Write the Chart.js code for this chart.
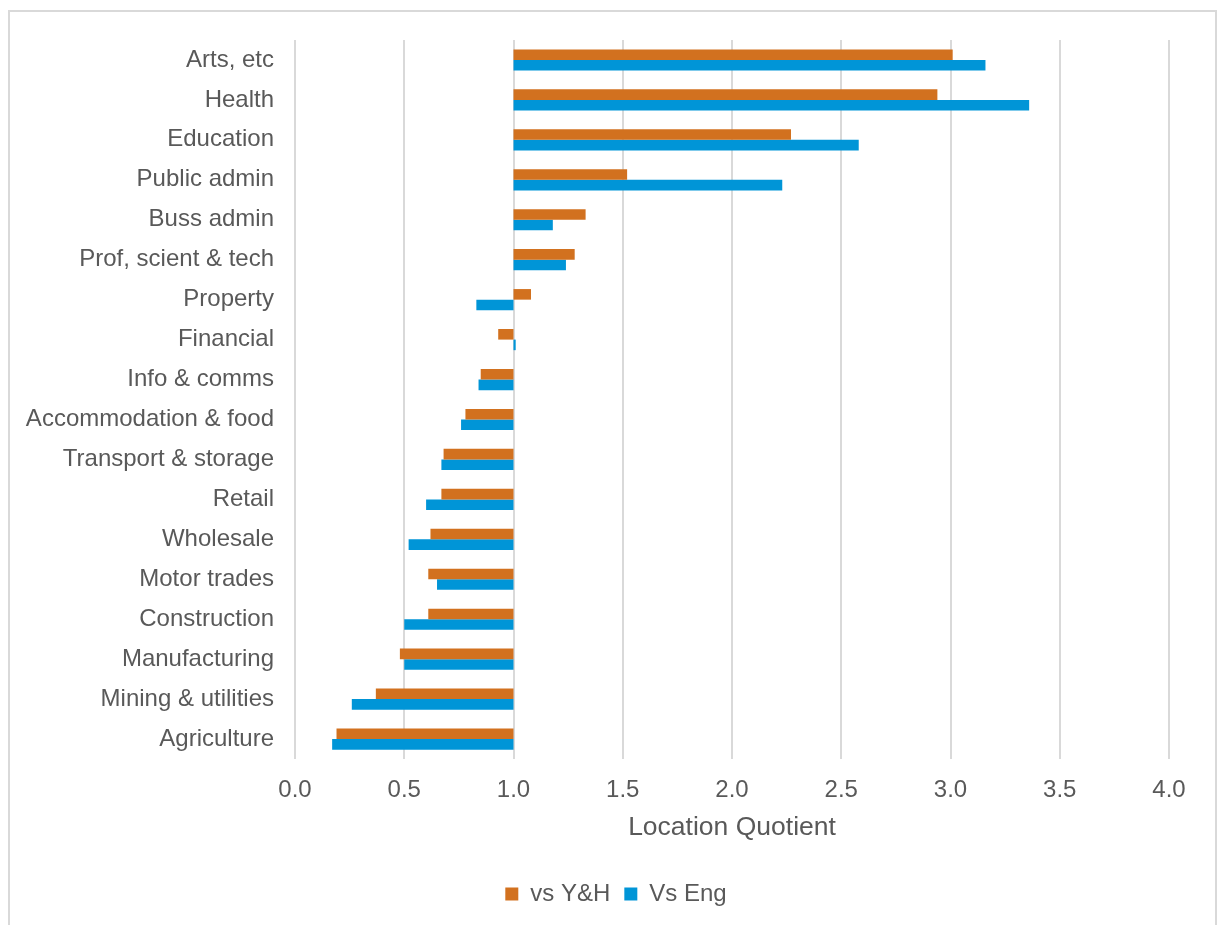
<!DOCTYPE html>
<html>
<head>
<meta charset="utf-8">
<title>Location Quotient by sector</title>
<script src="https://cdn.jsdelivr.net/npm/chart.js@4/dist/chart.umd.min.js"></script>
<style>
  html, body { margin: 0; padding: 0; background: #fff; }
  #wrap { position: relative; width: 1220px; height: 925px; overflow: hidden; }
  #frame {
    position: absolute; left: 8px; top: 10px; width: 1205px; height: 1000px;
    border: 2px solid #d9d9d9; pointer-events: none;
  }
  canvas { position: absolute; left: 0; top: 0; }
</style>
</head>
<body>
<div id="wrap">
  <canvas id="lqChart" width="1220" height="925"></canvas>
  <div id="frame"></div>
</div>
<script>
// sectors, top to bottom
const categories = [
  'Arts, etc', 'Health', 'Education', 'Public admin', 'Buss admin',
  'Prof, scient & tech', 'Property', 'Financial', 'Info & comms',
  'Accommodation & food', 'Transport & storage', 'Retail', 'Wholesale',
  'Motor trades', 'Construction', 'Manufacturing', 'Mining & utilities',
  'Agriculture'
];

// location quotient against Yorkshire & Humber
const vsYH = [3.01, 2.94, 2.27, 1.52, 1.33, 1.28, 1.08, 0.93, 0.85,
              0.78, 0.68, 0.67, 0.62, 0.61, 0.61, 0.48, 0.37, 0.19];

// location quotient against England
const vsEng = [3.16, 3.36, 2.58, 2.23, 1.18, 1.24, 0.83, 1.01, 0.84,
               0.76, 0.67, 0.60, 0.52, 0.65, 0.50, 0.50, 0.26, 0.17];

// bars grow out from LQ = 1
const baseline = 1;

const xTicks = [0, 0.5, 1, 1.5, 2, 2.5, 3, 3.5, 4];

const textColor = '#595959';
const fontFamily = '"Liberation Sans", Arial, sans-serif';

function fromBaseline(values) {
    return values.map(v => [baseline, v]);
}

const chartData = {
    labels: categories,
    datasets: [
        {
            label: 'vs Y&H',
            data: fromBaseline(vsYH),
            backgroundColor: '#D2711F',
            borderWidth: 0,
            barPercentage: 1.0,
            categoryPercentage: 0.53
        },
        {
            label: 'Vs Eng',
            data: fromBaseline(vsEng),
            backgroundColor: '#0095D7',
            borderWidth: 0,
            barPercentage: 1.0,
            categoryPercentage: 0.53
        }
    ]
};

const ctx = document.getElementById('lqChart').getContext('2d');
const lqChart = new Chart(ctx, {
    type: 'bar',
    data: chartData,
    options: {
        indexAxis: 'y',
        responsive: false,
        animation: false,
        layout: {
            padding: { left: 12, right: 0, top: 40, bottom: 9 }
        },
        plugins: {
            tooltip: { enabled: false },
            legend: {
                position: 'bottom',
                labels: {
                    color: textColor,
                    font: { family: fontFamily, size: 24 },
                    boxWidth: 13,
                    boxHeight: 13,
                    padding: 14
                }
            }
        },
        scales: {
            x: {
                min: xTicks[0],
                max: xTicks[xTicks.length - 1],
                afterBuildTicks: scale => {
                    scale.ticks = xTicks.map(v => ({ value: v }));
                },
                // keep a wide margin to the right of the 4.0 line
                afterFit: scale => { scale.paddingRight = 51; },
                ticks: {
                    color: textColor,
                    font: { family: fontFamily, size: 24, lineHeight: 0.01 },
                    padding: 31,
                    callback: v => Number(v).toFixed(1)
                },
                grid: {
                    color: '#d9d9d9',
                    lineWidth: 2,
                    drawTicks: false
                },
                border: { display: false },
                title: {
                    display: true,
                    text: 'Location Quotient',
                    color: textColor,
                    font: { family: fontFamily, size: 26.5, lineHeight: 0.82 },
                    padding: { top: -4, bottom: 29 }
                }
            },
            y: {
                afterFit: scale => { scale.width = 283; },
                ticks: {
                    color: textColor,
                    font: { family: fontFamily, size: 24 },
                    padding: 21
                },
                grid: { display: false, drawTicks: false },
                border: { display: false }
            }
        }
    }
});
</script>
</body>
</html>
